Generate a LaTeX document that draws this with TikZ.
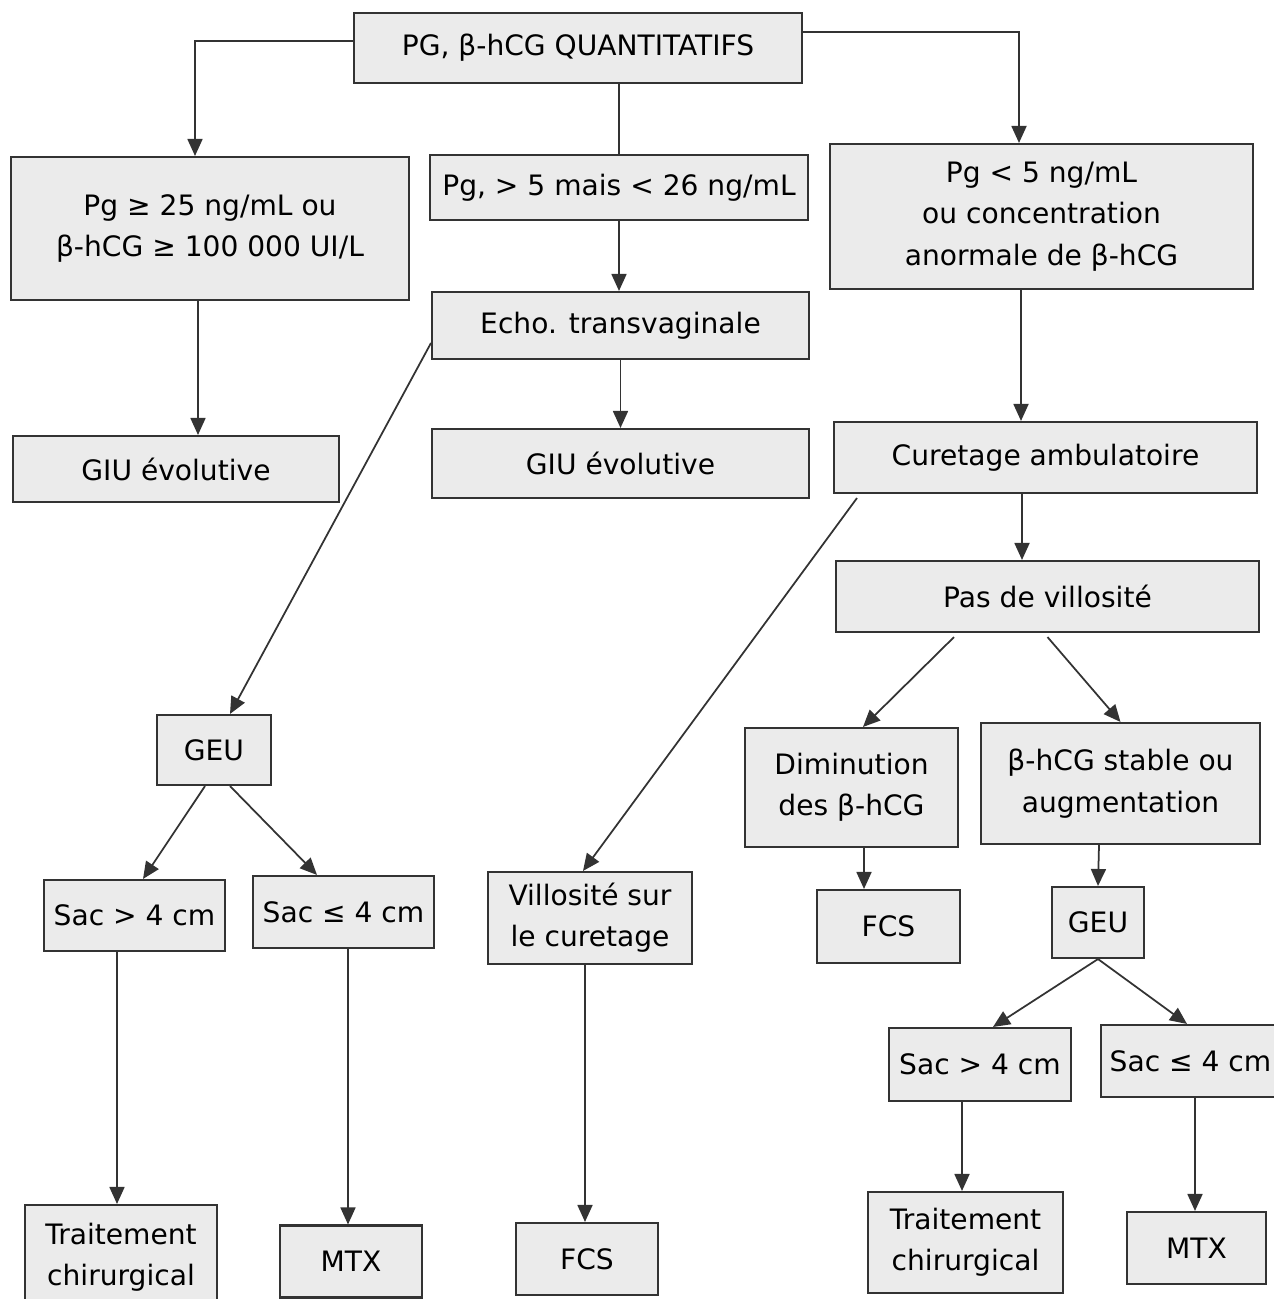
\documentclass[tikz,border=0pt]{standalone}
\usepackage{fontspec}
\setmainfont{DejaVu Sans}
\usetikzlibrary{arrows.meta}
\definecolor{boxgray}{gray}{0.92}
\definecolor{inkgray}{gray}{0.2}
\tikzset{block/.style={draw=inkgray,line width=1.2pt,fill=boxgray,align=center,inner sep=2pt,font=\fontsize{16}{23.5}\selectfont},
         line/.style={draw=inkgray,line width=1pt,-{Triangle[length=0.34cm,width=0.3cm]}}
}

\begin{document}
\begin{tikzpicture}[x=0.02cm,y=-0.02cm]
  \useasboundingbox (0,0) rectangle (1274,1299);
  \node[block, minimum width=8.96cm, minimum height=1.4cm] (top) at (578,48) {PG, β-hCG QUANTITATIFS};
  \node[block, minimum width=7.96cm, minimum height=2.86cm] (a) at (210,228.5) {Pg ≥ 25 ng/mL ou\\β-hCG ≥ 100 000 UI/L};
  \node[block, minimum width=7.56cm, minimum height=1.3cm] (b) at (619,187.5) {Pg, > 5 mais < 26 ng/mL};
  \node[block, minimum width=8.46cm, minimum height=2.9cm] (c) at (1041.5,216.5) {Pg < 5 ng/mL\\ou concentration\\anormale de β-hCG};
  \node[block, minimum width=6.52cm, minimum height=1.32cm] (giu1) at (176,469) {GIU évolutive};
  \node[block, minimum width=7.54cm, minimum height=1.34cm] (echo) at (620.5,325.5) {Echo. transvaginale};
  \node[block, minimum width=7.54cm, minimum height=1.38cm] (giu2) at (620.5,463.5) {GIU évolutive};
  \node[block, minimum width=8.46cm, minimum height=1.42cm] (cur) at (1045.5,457.5) {Curetage ambulatoire};
  \node[block, minimum width=8.46cm, minimum height=1.42cm] (pas) at (1047.5,596.5) {Pas de villosité};
  % left branch
  \node[block, minimum width=2.28cm, minimum height=1.4cm] (geu1) at (214,750) {GEU};
  \node[block, minimum width=3.62cm, minimum height=1.42cm] (sac1) at (134.5,915.5) {Sac > 4 cm};
  \node[block, minimum width=3.62cm, minimum height=1.44cm] (sac2) at (343.5,912) {Sac ≤ 4 cm};
  \node[block, minimum width=3.84cm, minimum height=2.1cm] (trait1) at (121,1257.5) {Traitement\\chirurgical};
  \node[block, minimum width=2.84cm, minimum height=1.44cm] (mtx1) at (351,1261.5) {MTX};
  \node[block, minimum width=4.08cm, minimum height=1.84cm] (vill) at (590,918) {Villosité sur\\le curetage};
  \node[block, minimum width=2.84cm, minimum height=1.44cm] (fcs1) at (587,1259) {FCS};
  % right branch
  \node[block, minimum width=4.26cm, minimum height=2.38cm] (dim) at (851.5,787.5) {Diminution\\des β-hCG};
  \node[block, minimum width=5.58cm, minimum height=2.42cm] (stab) at (1120.5,783.5) {β-hCG stable ou\\augmentation};
  \node[block, minimum width=2.86cm, minimum height=1.46cm] (fcs2) at (888.5,926.5) {FCS};
  \node[block, minimum width=1.84cm, minimum height=1.42cm] (geu2) at (1098,922.5) {GEU};
  \node[block, minimum width=3.64cm, minimum height=1.46cm] (sac3) at (980,1064.5) {Sac > 4 cm};
  \node[block, minimum width=3.58cm, minimum height=1.44cm] (sac4) at (1190.5,1061) {Sac ≤ 4 cm};
  \node[block, minimum width=3.9cm, minimum height=2.02cm] (trait2) at (965.5,1242.5) {Traitement\\chirurgical};
  \node[block, minimum width=2.78cm, minimum height=1.44cm] (mtx2) at (1196.5,1248) {MTX};

  \draw[line] ([yshift=0.14cm]top.west) -| ([xshift=-0.3cm]a.north);
  \draw[line] ([yshift=0.32cm]top.east) -| ([xshift=-0.45cm]c.north);
  \draw[inkgray,line width=1pt] (b.north |- top.south) -- (b.north);
  \draw[line] ([xshift=-0.24cm]a.south) -- ([xshift=0.44cm]giu1.north);
  \draw[line] (b.south) -- (b.south |- echo.north);
  \draw[line] (echo.south) -- (giu2.north);
  \draw[line] ([yshift=-0.35cm]echo.west) -- ([xshift=0.32cm]geu1.north);
  \draw[line] ([xshift=-0.41cm]c.south) -- ([xshift=-0.49cm]cur.north);
  \draw[line] ([shift={(0.48cm,-0.08cm)}]cur.south west) -- ([xshift=-0.14cm]vill.north);
  \draw[line] ([xshift=-0.47cm]cur.south) -- ([xshift=-0.51cm]pas.north);
  \draw[line] ([shift={(-1.87cm,-0.08cm)}]pas.south) -- ([xshift=0.23cm]dim.north);
  \draw[line] ([yshift=-0.08cm]pas.south) -- (stab.north);
  \draw[line] ([xshift=0.25cm]dim.south) -- ([xshift=-0.49cm]fcs2.north);
  \draw[line] ([xshift=-0.43cm]stab.south) -- (geu2.north);
  \draw[line] (geu2.south) -- ([xshift=0.26cm]sac3.north);
  \draw[line] (geu2.south) -- ([xshift=-0.07cm]sac4.north);
  \draw[line] ([xshift=-0.36cm]sac3.south) -- ([xshift=-0.07cm]trait2.north);
  \draw[line] ([xshift=0.09cm]sac4.south) -- ([xshift=-0.03cm]mtx2.north);
  \draw[line] ([xshift=-0.18cm]geu1.south) -- ([xshift=0.17cm]sac1.north);
  \draw[line] ([xshift=0.32cm]geu1.south) -- ([xshift=-0.53cm]sac2.north);
  \draw[line] ([xshift=-0.35cm]sac1.south) -- ([xshift=-0.08cm]trait1.north);
  \draw[line] ([xshift=0.09cm]sac2.south) -- ([xshift=-0.06cm]mtx1.north);
  \draw[line] ([xshift=-0.1cm]vill.south) -- ([xshift=-0.04cm]fcs1.north);
\end{tikzpicture}
\end{document}
